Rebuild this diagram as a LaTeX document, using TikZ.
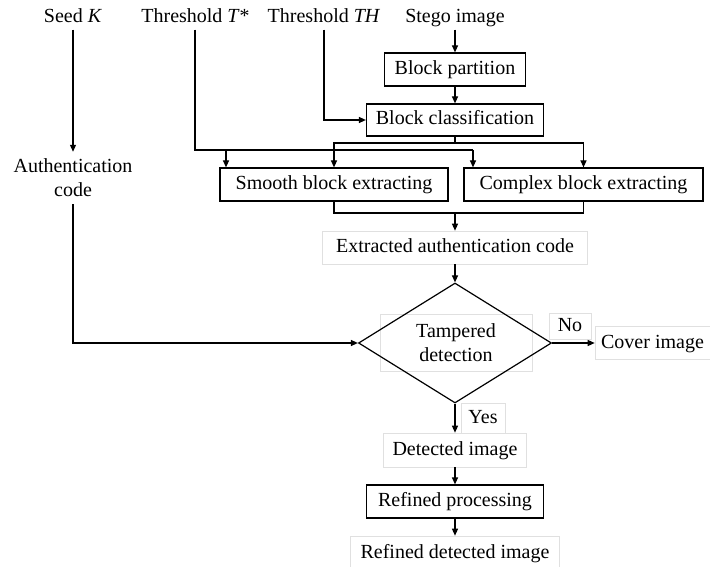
\documentclass[tikz,border=0pt]{standalone}
\usepackage{fontspec}
\setmainfont{Liberation Serif}
\usetikzlibrary{shapes.geometric,arrows.meta}

\begin{document}
\begin{tikzpicture}[
        x=1pt, y=-1pt,
        font=\fontsize{20}{24}\selectfont,
        process/.style={
            rectangle, draw = black, line width = 1.2pt, text height = 14pt, text depth = 4pt, inner sep = 0pt
        },
        plain/.style={
            rectangle, draw = black!12, line width = 0.6pt, text height = 14pt, text depth = 4pt, inner sep = 0pt
        },
        title/.style={
            text height = 14pt, text depth = 4pt, inner sep = 3pt
        },
        flow/.style={line width = 1.2pt, -{Triangle[length=7pt,width=6pt]}},
        wire/.style={line width = 1.2pt},
    ]
    \useasboundingbox (0,0) rectangle (710,567);

    \node (seedK) [title] at (73,17.5) {Seed \textit{K}};
    \node (thresholdT) [title] at (195,17.5) {Threshold \textit{T*}};
    \node (thresholdTH) [title] at (324,17.5) {Threshold \textit{TH}};
    \node (stego) [title] at (455,17.5) {Stego image};

    \node (partition) [process, minimum width=141pt, minimum height=33pt] at (455,69.5) {Block partition};
    \draw[flow] (stego) -- (partition);
    \node (classify) [process, minimum width=177pt, minimum height=32pt] at (455,120) {Block classification};
    \draw[flow] (partition) -- (classify);
    \draw[flow] (thresholdTH) |- (classify);

    \node (smooth) [process, minimum width=228pt, minimum height=33pt] at (334,184.5) {Smooth block extracting};
    \node (complex) [process, minimum width=239pt, minimum height=33pt] at (583.5,184.5) {Complex block extracting};
    \coordinate (splitPoint) at (455,143);
    \draw[flow] (classify) -- (splitPoint) -| (smooth);
    \draw[flow] (splitPoint) -| (complex);

    \coordinate (tLeft) at (226,150);
    \coordinate (tRight) at (473,150);
    \draw[wire] (thresholdT) |- (tRight);
    \draw[flow] (tLeft) -- (tLeft |- smooth.north);
    \draw[flow] (tRight) -- (tRight |- complex.north);

    \node (extracted) [plain, minimum width=265pt, minimum height=33pt] at (455,247.5) {Extracted authentication code};
    \coordinate (mergePoint) at (455,213);
    \draw[wire] (smooth) |- (mergePoint) -| (complex);
    \draw[flow] (mergePoint) -- (extracted);

    \node (authCode) [align=center, inner ysep=7pt] at (73,178) {Authentication\\code};
    \draw[flow] (seedK) -- (authCode);

    \node (tamperedText) [draw=black!12, line width=0.6pt, align=center, minimum width=152pt, minimum height=57pt, inner sep=0pt] at (456,342.5) {Tampered\\detection};
    \node (tampered) [diamond, draw, line width=1.2pt, minimum width=193pt, minimum height=120pt, inner sep=0pt] at (455,343) {};
    \draw[flow] (extracted) -- (tampered);
    \draw[flow] (authCode) |- (tampered);

    \node (cover) [plain, minimum width=115pt, minimum height=33pt] at (652.5,343) {Cover image};
    \node (no) [plain, minimum width=42pt, minimum height=26pt] at (570,326) {No};
    \draw[flow] (tampered) -- (cover);

    \node (detected) [plain, minimum width=143pt, minimum height=34pt] at (455,450) {Detected image};
    \node (yes) [plain, minimum width=44pt, minimum height=30pt] at (483,418) {Yes};
    \draw[flow] (tampered) -- (detected);

    \node (refining) [process, minimum width=177pt, minimum height=33pt] at (455,501.5) {Refined processing};
    \draw[flow] (detected) -- (refining);
    \node (refined) [plain, minimum width=209pt, minimum height=34pt] at (455,553) {Refined detected image};
    \draw[flow] (refining) -- (refined);

    \end{tikzpicture}
\end{document}
